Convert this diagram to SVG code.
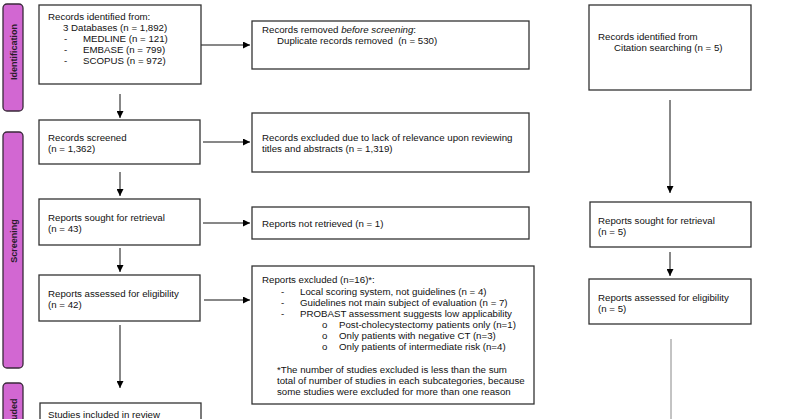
<svg xmlns="http://www.w3.org/2000/svg" width="800" height="419" viewBox="0 0 800 419">
<defs>
<marker id="ah" viewBox="0 0 10 10" refX="10" refY="5" markerWidth="7" markerHeight="7" markerUnits="userSpaceOnUse" orient="auto">
<path d="M0,0 L10,5 L0,10 z" fill="#000"/>
</marker>
<style>
.box{fill:#fff;stroke:#333;stroke-width:1.3}
.side{fill:#d267d2;stroke:#3a2a3a;stroke-width:1.3}
.t{font-family:"Liberation Sans",Arial,sans-serif;font-size:9.7px;fill:#111}
.st{font-family:"Liberation Sans",Arial,sans-serif;font-size:9px;font-weight:bold;fill:#2a1a2a}
.c{stroke:#111;stroke-width:1;fill:none}
</style>
</defs>
<rect width="800" height="419" fill="#fff"/>
<g id="side-identification"><rect class="side" x="3" y="4" width="20" height="107" rx="4"/><text class="st" transform="translate(16.5,52) rotate(-90)" text-anchor="middle">Identification</text></g>
<g id="side-screening"><rect class="side" x="3" y="132" width="20" height="236" rx="4"/><text class="st" transform="translate(16.5,241) rotate(-90)" text-anchor="middle">Screening</text></g>
<g id="side-included"><rect class="side" x="3" y="383" width="20" height="60" rx="4"/><text class="st" transform="translate(16.5,417) rotate(-90)" text-anchor="middle">Included</text></g>

<g id="connectors">
<line class="c" x1="201" y1="45" x2="250" y2="45" marker-end="url(#ah)"/>
<line class="c" x1="120" y1="94" x2="120" y2="118" marker-end="url(#ah)"/>
<line class="c" x1="203" y1="142" x2="250" y2="142" marker-end="url(#ah)"/>
<line class="c" x1="120" y1="172" x2="120" y2="196" marker-end="url(#ah)"/>
<line class="c" x1="203" y1="223" x2="250" y2="223" marker-end="url(#ah)"/>
<line class="c" x1="120" y1="248" x2="120" y2="272" marker-end="url(#ah)"/>
<line class="c" x1="204" y1="300" x2="250" y2="300" marker-end="url(#ah)"/>
<line class="c" x1="120" y1="325" x2="120" y2="388" marker-end="url(#ah)"/>
<line class="c" x1="670" y1="100" x2="670" y2="193" marker-end="url(#ah)"/>
<line class="c" x1="670" y1="252" x2="670" y2="276" marker-end="url(#ah)"/>
<line x1="671" y1="339" x2="671" y2="419" stroke="#888" stroke-width="1"/>
</g>

<g id="records-identified"><rect class="box" x="39" y="5" width="162" height="79"/>
<text class="t" x="48" y="20">Records identified from:</text>
<text class="t" x="63" y="31">3 Databases (n = 1,892)</text>
<text class="t" x="64" y="42">-</text><text class="t" x="83" y="42">MEDLINE (n = 121)</text>
<text class="t" x="64" y="53">-</text><text class="t" x="83" y="53">EMBASE (n = 799)</text>
<text class="t" x="64" y="64">-</text><text class="t" x="83" y="64">SCOPUS (n = 972)</text>
</g>
<g id="records-removed"><rect class="box" x="252" y="21" width="277" height="48"/>
<text class="t" x="262" y="33">Records removed <tspan font-style="italic">before screening</tspan>:</text>
<text class="t" x="277" y="44">Duplicate records removed &#160;(n = 530)</text>
</g>
<g id="citation"><rect class="box" x="589" y="5" width="162" height="85"/>
<text class="t" x="598" y="40">Records identified from</text>
<text class="t" x="614" y="51">Citation searching (n = 5)</text>
</g>
<g id="records-screened"><rect class="box" x="39" y="120" width="161" height="44"/>
<text class="t" x="48" y="141">Records screened</text>
<text class="t" x="48" y="152">(n = 1,362)</text>
</g>
<g id="records-excluded"><rect class="box" x="252" y="113" width="277" height="59"/>
<text class="t" x="262" y="141">Records excluded due to lack of relevance upon reviewing</text>
<text class="t" x="262" y="152">titles and abstracts (n = 1,319)</text>
</g>
<g id="reports-sought"><rect class="box" x="39" y="199" width="161" height="46"/>
<text class="t" x="48" y="221">Reports sought for retrieval</text>
<text class="t" x="48" y="232">(n = 43)</text>
</g>
<g id="reports-not-retrieved"><rect class="box" x="252" y="207" width="277" height="32"/>
<text class="t" x="262" y="227">Reports not retrieved (n = 1)</text>
</g>
<g id="reports-sought-right"><rect class="box" x="590" y="202" width="161" height="45"/>
<text class="t" x="598" y="224">Reports sought for retrieval</text>
<text class="t" x="598" y="235">(n = 5)</text>
</g>
<g id="reports-assessed"><rect class="box" x="39" y="275" width="161" height="46"/>
<text class="t" x="48" y="297">Reports assessed for eligibility</text>
<text class="t" x="48" y="308">(n = 42)</text>
</g>
<g id="reports-assessed-right"><rect class="box" x="589" y="279" width="162" height="45"/>
<text class="t" x="598" y="301">Reports assessed for eligibility</text>
<text class="t" x="598" y="312">(n = 5)</text>
</g>
<g id="reports-excluded"><rect class="box" x="252" y="266" width="282" height="138"/>
<text class="t" x="262" y="283">Reports excluded (n=16)*:</text>
<text class="t" x="281" y="295">-</text><text class="t" x="300" y="295">Local scoring system, not guidelines (n = 4)</text>
<text class="t" x="281" y="306">-</text><text class="t" x="300" y="306">Guidelines not main subject of evaluation (n = 7)</text>
<text class="t" x="281" y="317">-</text><text class="t" x="300" y="317">PROBAST assessment suggests low applicability</text>
<text class="t" x="322" y="328">o</text><text class="t" x="339" y="328">Post-cholecystectomy patients only (n=1)</text>
<text class="t" x="322" y="339">o</text><text class="t" x="339" y="339">Only patients with negative CT (n=3)</text>
<text class="t" x="322" y="350">o</text><text class="t" x="339" y="350">Only patients of intermediate risk (n=4)</text>
<text class="t" x="277" y="373">*The number of studies excluded is less than the sum</text>
<text class="t" x="277" y="384">total of number of studies in each subcategories, because</text>
<text class="t" x="277" y="395">some studies were excluded for more than one reason</text>
</g>
<g id="studies-included"><rect class="box" x="40" y="403" width="161" height="40"/>
<text class="t" x="48" y="418">Studies included in review</text>
</g>
</svg>
